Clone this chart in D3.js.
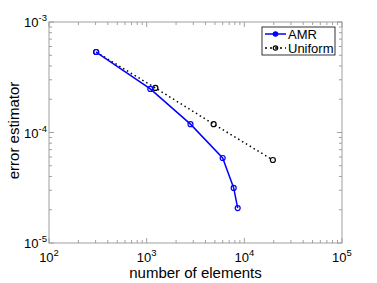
<!DOCTYPE html>
<html>
<head>
<meta charset="utf-8">
<script src="https://cdn.jsdelivr.net/npm/d3@7"></script>
<style>
  body { margin: 0; background: #fff; }
  text { font-family: "Liberation Sans", Arial, sans-serif; fill: #000; }
</style>
</head>
<body>
<svg id="chart"></svg>
<script>
// data
var amrElements = [304, 1090, 2810, 6000, 7780, 8550];
var amrError = [5.35e-4, 2.48e-4, 1.19e-4, 5.88e-5, 3.15e-5, 2.07e-5];
var uniElements = [304, 1228, 4850, 19600];
var uniError = [5.35e-4, 2.53e-4, 1.19e-4, 5.64e-5];
var xTickExps = [2, 3, 4, 5];
var yTickExps = [-5, -4, -3];
var seriesNames = ["AMR", "Uniform"];

var dimensions = {
    width: 377,
    height: 283,
    margins: { top: 22, right: 35, bottom: 40, left: 49 }
};
var w = dimensions.width - dimensions.margins.left - dimensions.margins.right;
var h = dimensions.height - dimensions.margins.top - dimensions.margins.bottom;

var svg = d3.select("#chart")
    .attr("width", dimensions.width)
    .attr("height", dimensions.height)
    .append("g")
    .attr("transform", "translate(" + dimensions.margins.left + "," + dimensions.margins.top + ")");

var xScale = d3.scaleLog().domain([1e2, 1e5]).range([0, w]);
var yScale = d3.scaleLog().domain([1e-5, 1e-3]).range([h, 0]);

var axisColor = "#a0a0a0";

// minor + major ticks, drawn inside the box on all four sides
function logTicks(lo, hi) {
    var out = [];
    for (var e = lo; e < hi; e++) {
        for (var m = 1; m < 10; m++) out.push({ v: m * Math.pow(10, e), major: m === 1 });
    }
    out.push({ v: Math.pow(10, hi), major: true });
    return out;
}
var xt = logTicks(2, 5);
var yt = logTicks(-5, -3);
var ticks = svg.append("g").attr("stroke", axisColor).attr("stroke-width", 1);
xt.forEach(function(t) {
    var x = xScale(t.v), len = t.major ? 5 : 3;
    ticks.append("line").attr("x1", x).attr("x2", x).attr("y1", h).attr("y2", h - len);
    ticks.append("line").attr("x1", x).attr("x2", x).attr("y1", 0).attr("y2", len);
});
yt.forEach(function(t) {
    var y = yScale(t.v), len = t.major ? 5 : 3;
    ticks.append("line").attr("x1", 0).attr("x2", len).attr("y1", y).attr("y2", y);
    ticks.append("line").attr("x1", w).attr("x2", w - len).attr("y1", y).attr("y2", y);
});

// box
svg.append("rect")
    .attr("width", w).attr("height", h)
    .attr("fill", "none").attr("stroke", axisColor).attr("stroke-width", 1);

// tick labels with superscript exponents
xTickExps.forEach(function(e) {
    var t = svg.append("text")
        .attr("x", xScale(Math.pow(10, e)))
        .attr("y", h + 19)
        .attr("text-anchor", "middle")
        .style("font-size", "13px");
    t.append("tspan").text("10");
    t.append("tspan").attr("dy", -6).style("font-size", "9.5px").text(e);
});
yTickExps.forEach(function(e) {
    var t = svg.append("text")
        .attr("x", -2)
        .attr("y", yScale(Math.pow(10, e)) + 5)
        .attr("text-anchor", "end")
        .style("font-size", "13px");
    t.append("tspan").text("10");
    t.append("tspan").attr("dy", -6).style("font-size", "9.5px").text(e);
});

// axis titles
svg.append("text")
    .attr("x", w / 2)
    .attr("y", h + 35)
    .attr("text-anchor", "middle")
    .style("font-size", "15px")
    .text("number of elements");

svg.append("text")
    .attr("transform", "rotate(-90)")
    .attr("x", -h / 2 + 2)
    .attr("y", -30)
    .attr("text-anchor", "middle")
    .style("font-size", "15px")
    .text("error estimator");

// series
var line = d3.line().x(d => xScale(d[0])).y(d => yScale(d[1]));
var amr = amrElements.map((x, i) => [x, amrError[i]]);
var uni = uniElements.map((x, i) => [x, uniError[i]]);

svg.append("path").datum(uni)
    .attr("d", line).attr("fill", "none")
    .attr("stroke", "#000").attr("stroke-width", 1.5)
    .attr("stroke-dasharray", "1.5,3");
svg.selectAll(".uni-pt").data(uni).enter().append("circle")
    .attr("class", "uni-pt")
    .attr("cx", d => xScale(d[0])).attr("cy", d => yScale(d[1]))
    .attr("r", 2.5).attr("fill", "none").attr("stroke", "#000").attr("stroke-width", 1.2);

svg.append("path").datum(amr)
    .attr("d", line).attr("fill", "none")
    .attr("stroke", "#0000ff").attr("stroke-width", 1.5);
svg.selectAll(".amr-pt").data(amr).enter().append("circle")
    .attr("class", "amr-pt")
    .attr("cx", d => xScale(d[0])).attr("cy", d => yScale(d[1]))
    .attr("r", 2.5).attr("fill", "none").attr("stroke", "#0000ff").attr("stroke-width", 1.2);

// legend
var lg = svg.append("g").attr("transform", "translate(" + (w - 80) + ",5)");
lg.append("rect").attr("width", 73).attr("height", 28)
    .attr("fill", "#fff").attr("stroke", "#000").attr("stroke-width", 0.8);
seriesNames.forEach(function(name, i) {
    var y = 7 + i * 14;
    var col = i === 0 ? "#0000ff" : "#000";
    lg.append("line").attr("x1", 3).attr("x2", 24).attr("y1", y).attr("y2", y)
        .attr("stroke", col).attr("stroke-width", 1.5)
        .attr("stroke-dasharray", i === 0 ? null : "2,3");
    lg.append("circle").attr("cx", 13.5).attr("cy", y).attr("r", 2.2)
        .attr("fill", i === 0 ? col : "none").attr("stroke", col).attr("stroke-width", 1.2);
    lg.append("text").attr("x", 26).attr("y", y + 5)
        .style("font-size", "13px").text(name);
});
</script>
</body>
</html>
